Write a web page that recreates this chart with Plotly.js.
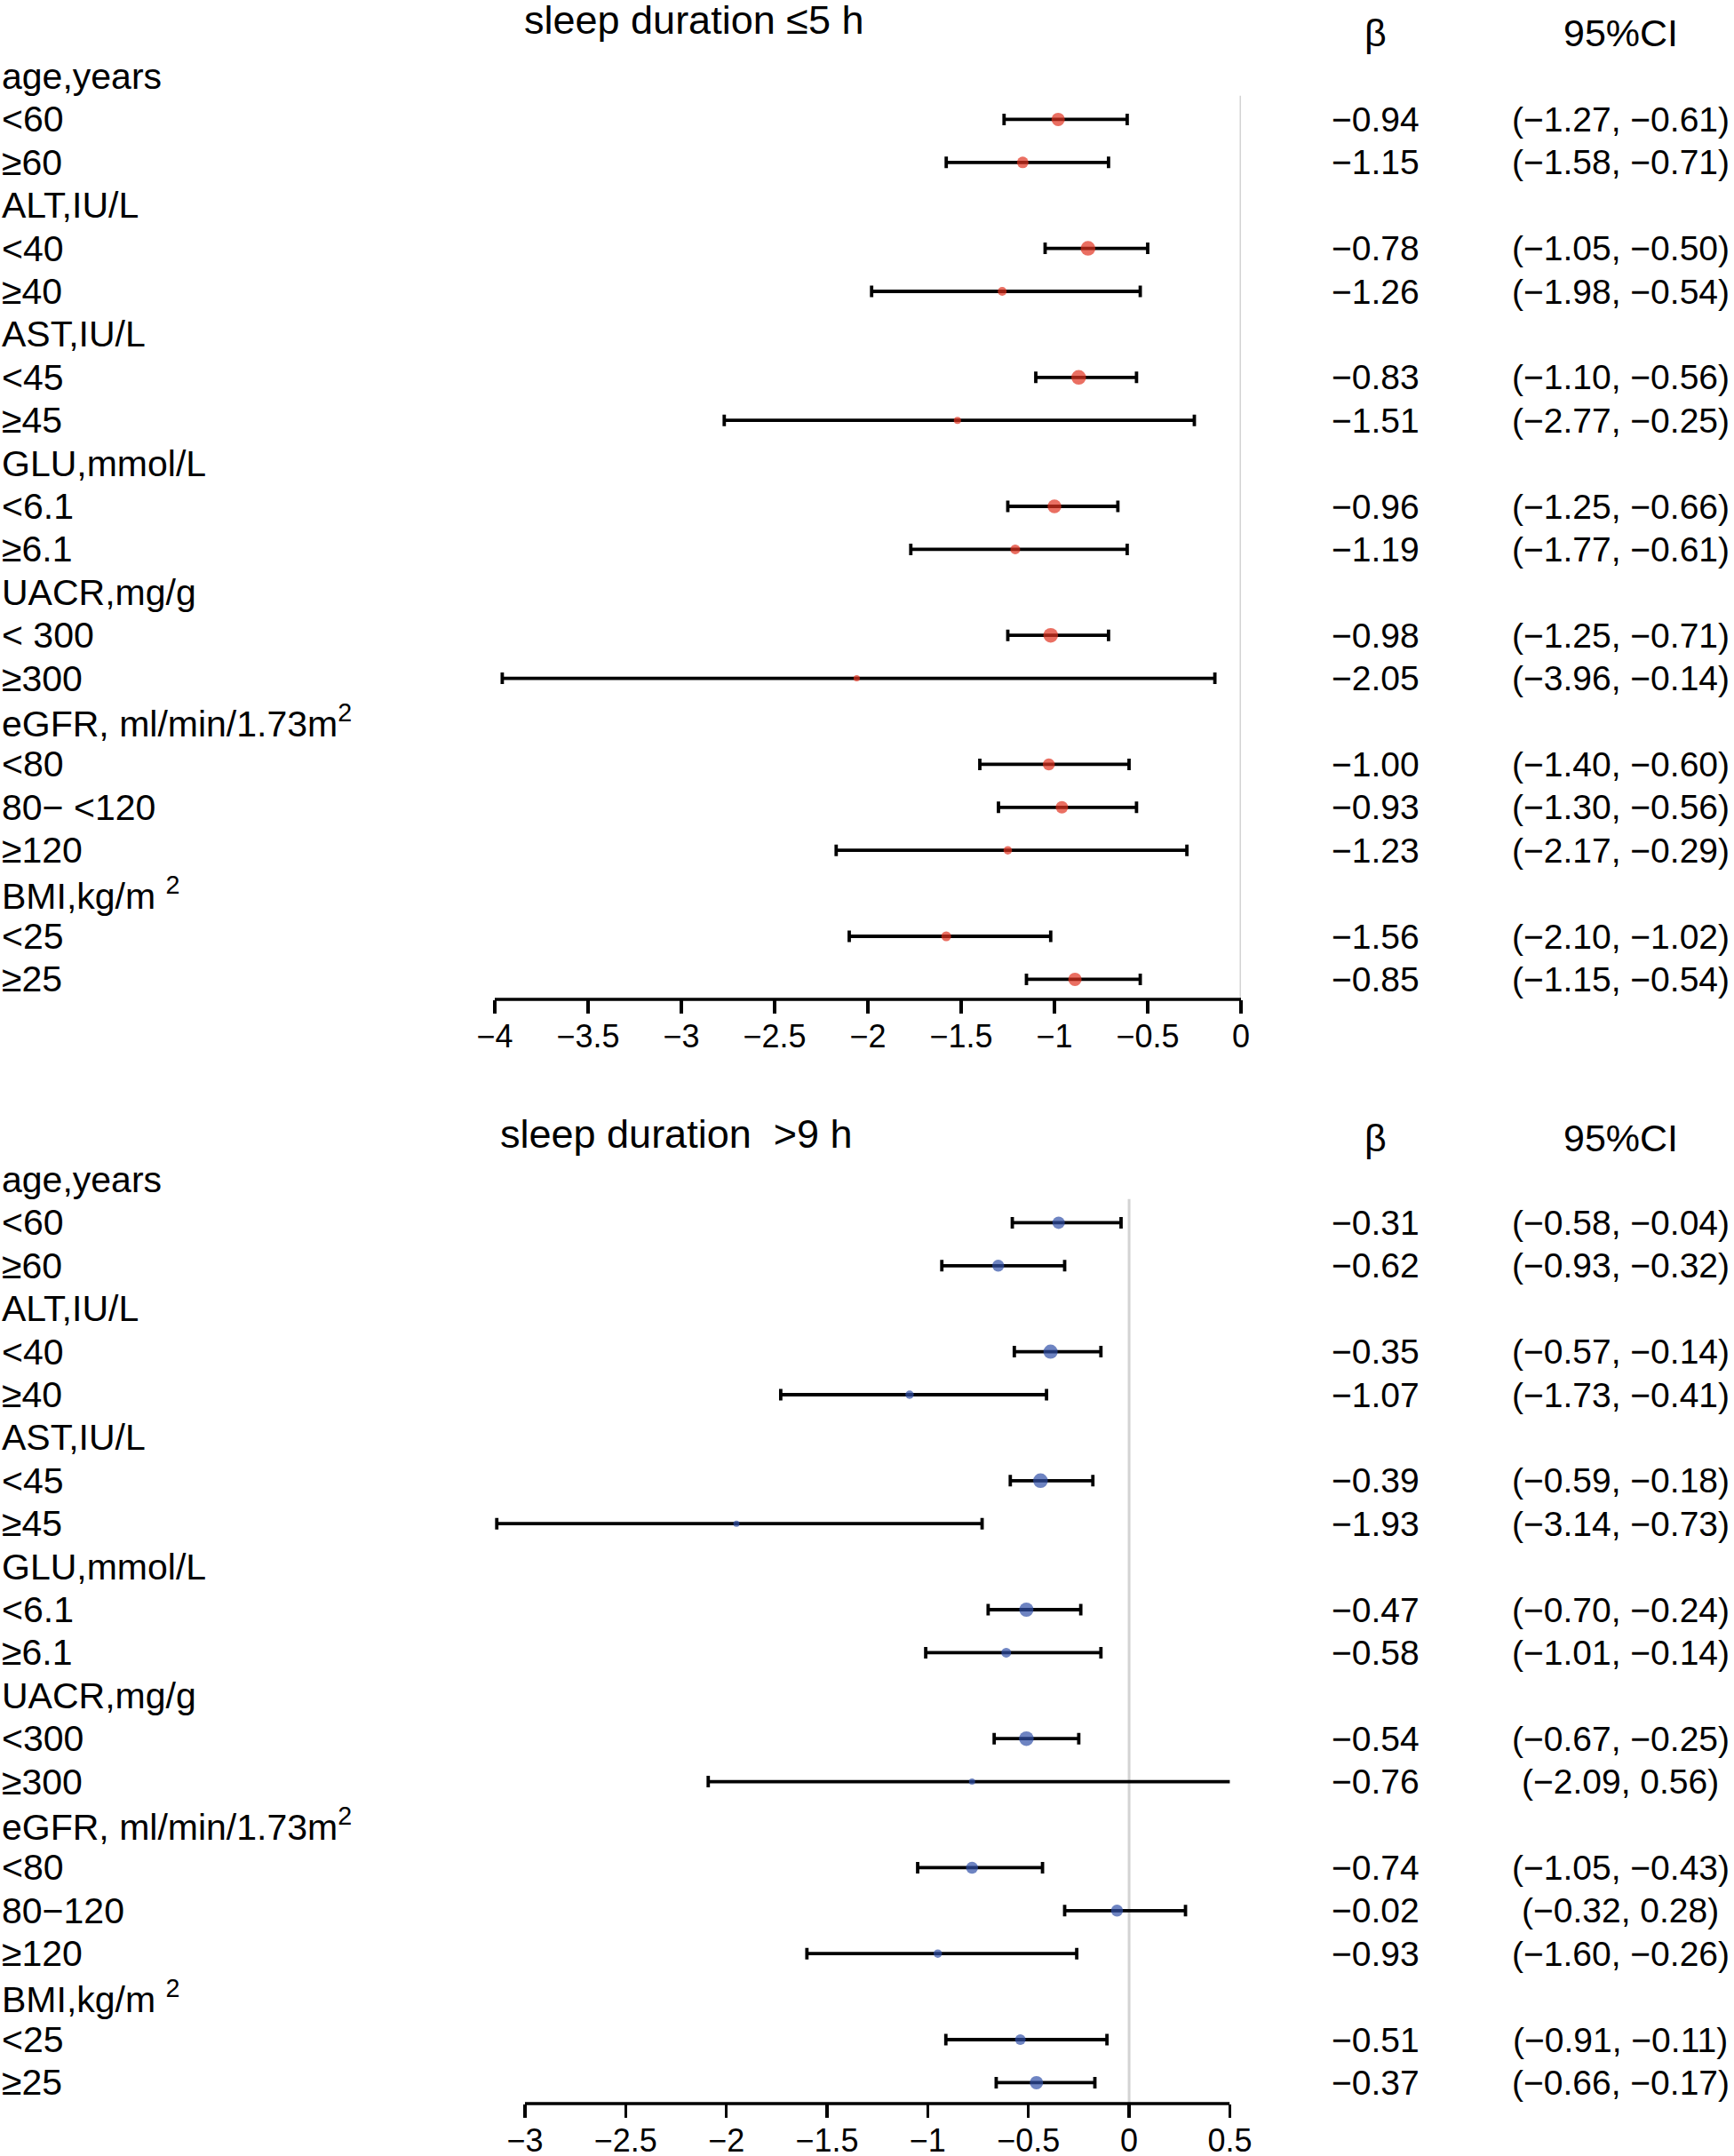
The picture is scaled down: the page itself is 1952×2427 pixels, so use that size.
<!DOCTYPE html>
<html>
<head>
<meta charset="utf-8">
<script src="https://cdn.plot.ly/plotly-3.0.1.min.js"></script>
<style>
  html, body { margin: 0; padding: 0; background: #ffffff; }
  #chart { width: 1952px; height: 2427px; }
</style>
</head>
<body>
<div id="chart"></div>
<script>
// ---------------- data ----------------
const groupNames = ["age,years", "ALT,IU/L", "AST,IU/L", "GLU,mmol/L", "UACR,mg/g",
                    "eGFR, ml/min/1.73m<sup>2</sup>", "BMI,kg/m <sup>2</sup>"];

const subLabelsShort = [["<60", "≥60"], ["<40", "≥40"], ["<45", "≥45"], ["<6.1", "≥6.1"],
                        ["< 300", "≥300"], ["<80", "80− <120", "≥120"], ["<25", "≥25"]];
const subLabelsLong  = [["<60", "≥60"], ["<40", "≥40"], ["<45", "≥45"], ["<6.1", "≥6.1"],
                        ["<300", "≥300"], ["<80", "80−120", "≥120"], ["<25", "≥25"]];

// sleep duration <=5 h : printed beta and 95% CI
const betaShort = [-0.94, -1.15, -0.78, -1.26, -0.83, -1.51, -0.96, -1.19, -0.98, -2.05, -1.00, -0.93, -1.23, -1.56, -0.85];
const lowShort  = [-1.27, -1.58, -1.05, -1.98, -1.10, -2.77, -1.25, -1.77, -1.25, -3.96, -1.40, -1.30, -2.17, -2.10, -1.15];
const highShort = [-0.61, -0.71, -0.50, -0.54, -0.56, -0.25, -0.66, -0.61, -0.71, -0.14, -0.60, -0.56, -0.29, -1.02, -0.54];
// point estimates as drawn in the figure
const pointShort = [-0.98, -1.17, -0.82, -1.28, -0.87, -1.52, -1.00, -1.21, -1.02, -2.06, -1.03, -0.96, -1.25, -1.58, -0.89];

// sleep duration >9 h
const betaLong = [-0.31, -0.62, -0.35, -1.07, -0.39, -1.93, -0.47, -0.58, -0.54, -0.76, -0.74, -0.02, -0.93, -0.51, -0.37];
const lowLong  = [-0.58, -0.93, -0.57, -1.73, -0.59, -3.14, -0.70, -1.01, -0.67, -2.09, -1.05, -0.32, -1.60, -0.91, -0.66];
const highLong = [-0.04, -0.32, -0.14, -0.41, -0.18, -0.73, -0.24, -0.14, -0.25, 0.56, -0.43, 0.28, -0.26, -0.11, -0.17];
const pointLong = [-0.35, -0.65, -0.39, -1.09, -0.44, -1.95, -0.51, -0.61, -0.51, -0.78, -0.78, -0.06, -0.95, -0.54, -0.46];

// point sizes (study weight), px diameter
const weightSizeShort = [15, 13, 16.5, 10, 16.5, 8, 15.5, 11, 16.5, 7, 13.5, 14, 9.5, 11, 15];
const weightSizeLong  = [14, 13.5, 16, 9.5, 16.5, 7, 16, 11, 16.5, 7, 13.5, 13.5, 9.5, 12, 15];

const titleShort = "sleep duration ≤5 h";
const titleLong  = "sleep duration  >9 h";
const betaHeader = "β";
const ciHeader = "95%CI";

const axisEndsShort = [-4, 0];
const axisEndsLong  = [-3, 0.5];

// ---------------- helpers ----------------
const W = 1952, H = 2427;
const FONT = "Liberation Sans, Arial, Helvetica, sans-serif";
const esc = s => s.replace(/</g, "&lt;").replace(/>/g, "&gt;");
const fmt = v => v.toFixed(2).replace("-", "\u2212");
const py = px => 1 - px / H;
const px2x = px => px / W;

function buildRows(subLabels) {
  const rows = [];
  let k = 0;
  groupNames.forEach((g, gi) => {
    rows.push({ label: g, header: true });
    subLabels[gi].forEach(s => { rows.push({ label: esc(s), header: false, idx: k++ }); });
  });
  return rows;
}

const annotations = [];
const shapes = [];
const traces = [];

function panel(opts) {
  const rows = buildRows(opts.subLabels);
  const ys = [];
  rows.forEach((r, i) => {
    annotations.push({
      xref: "paper", yref: opts.yref, x: 0, y: i, xanchor: "left", yanchor: "middle",
      text: r.label, showarrow: false, font: { family: FONT, size: 41, color: "#000" }
    });
    if (!r.header) {
      ys[r.idx] = i;
      annotations.push({
        xref: "paper", yref: opts.yref, x: px2x(1548), y: i, xanchor: "center", yanchor: "middle",
        text: fmt(opts.beta[r.idx]), showarrow: false, font: { family: FONT, size: 39, color: "#000" }
      });
      annotations.push({
        xref: "paper", yref: opts.yref, x: px2x(1824), y: i, xanchor: "center", yanchor: "middle",
        text: "(" + fmt(opts.low[r.idx]) + ", " + fmt(opts.high[r.idx]) + ")",
        showarrow: false, font: { family: FONT, size: 39, color: "#000" }
      });
    }
  });
  annotations.push({ xref: "paper", yref: "paper", x: px2x(opts.titleX), y: py(opts.titleY),
    xanchor: "center", yanchor: "middle", text: esc(opts.title), showarrow: false,
    font: { family: FONT, size: 45, color: "#000" } });
  annotations.push({ xref: "paper", yref: "paper", x: px2x(1548), y: py(opts.headY),
    xanchor: "center", yanchor: "middle", text: betaHeader, showarrow: false,
    font: { family: FONT, size: 43, color: "#000" } });
  annotations.push({ xref: "paper", yref: "paper", x: px2x(1824), y: py(opts.headY),
    xanchor: "center", yanchor: "middle", text: ciHeader, showarrow: false,
    font: { family: FONT, size: 43, color: "#000" } });

  // reference line at 0
  shapes.push({ type: "line", xref: opts.xref, yref: opts.yref, x0: 0, x1: 0,
    y0: 0.45, y1: opts.yBottom, line: { color: "#d3d3d3", width: 3 }, layer: "below" });
  // axis line between the axis ends
  shapes.push({ type: "line", xref: opts.xref, yref: "paper", x0: opts.axisEnds[0], x1: opts.axisEnds[1],
    y0: py(opts.axisPx), y1: py(opts.axisPx), line: { color: "#000", width: 3.5 }, layer: "above" });

  traces.push({
    type: "scatter", mode: "markers", x: opts.point, y: ys,
    xaxis: opts.xref, yaxis: opts.yref, cliponaxis: false, hoverinfo: "skip",
    marker: { color: opts.color, size: opts.sizes, line: { width: 0 } },
    error_x: {
      type: "data", symmetric: false,
      array: opts.high.map((h, i) => h - opts.point[i]),
      arrayminus: opts.point.map((b, i) => b - opts.low[i]),
      color: "#000", thickness: 3.8, width: 6.5
    }
  });
}

const topRow0 = 86, rowStep = 48.4, topAxis = 1125, topDomTop = 55;
const botRow0 = 1328, botAxis = 2368, botDomTop = 1300;

const topYrange = [(topAxis - topRow0) / rowStep, (topDomTop - topRow0) / rowStep];
const botYrange = [(botAxis - botRow0) / rowStep, (botDomTop - botRow0) / rowStep];

panel({ subLabels: subLabelsShort, beta: betaShort, low: lowShort, high: highShort, point: pointShort,
  sizes: weightSizeShort, color: "#E1321F", xref: "x", yref: "y", axisEnds: axisEndsShort, axisPx: topAxis,
  title: titleShort, titleX: 781, titleY: 23, headY: 37, yBottom: topYrange[0] });
panel({ subLabels: subLabelsLong, beta: betaLong, low: lowLong, high: highLong, point: pointLong,
  sizes: weightSizeLong, color: "#3050A8", xref: "x2", yref: "y2", axisEnds: axisEndsLong, axisPx: botAxis,
  title: titleLong, titleX: 761, titleY: 1276, headY: 1281, yBottom: botYrange[0] });

const xaxisBase = {
  showline: false,
  ticks: "outside", ticklen: 15, tickwidth: 3.5, tickcolor: "#000",
  dtick: 0.5, tick0: 0, showgrid: false, zeroline: false, fixedrange: true,
  tickfont: { family: FONT, size: 36, color: "#000" }, ticklabelstandoff: -5
};

// pixel scale: top 210 px/unit from -4 at x=557; bottom 226.8 px/unit with -3 at x=591
const layout = {
  width: W, height: H,
  margin: { l: 0, r: 0, t: 0, b: 0, pad: 0 },
  paper_bgcolor: "#ffffff", plot_bgcolor: "rgba(0,0,0,0)",
  showlegend: false,
  xaxis: Object.assign({}, xaxisBase, { domain: [(557 - 0.2 * 210) / W, 1397 / W], range: [-4.2, 0], anchor: "y" }),
  yaxis: { domain: [py(topAxis), py(topDomTop)], range: topYrange, visible: false, showgrid: false, zeroline: false, anchor: "x" },
  xaxis2: Object.assign({}, xaxisBase, { domain: [(591 - 0.2 * 226.8) / W, 1384.4 / W], range: [-3.2, 0.5], anchor: "y2" }),
  yaxis2: { domain: [py(botAxis), py(botDomTop)], range: botYrange, visible: false, showgrid: false, zeroline: false, anchor: "x2" },
  annotations: annotations,
  shapes: shapes
};

Plotly.newPlot("chart", traces, layout, { staticPlot: true, displayModeBar: false });
</script>
</body>
</html>
